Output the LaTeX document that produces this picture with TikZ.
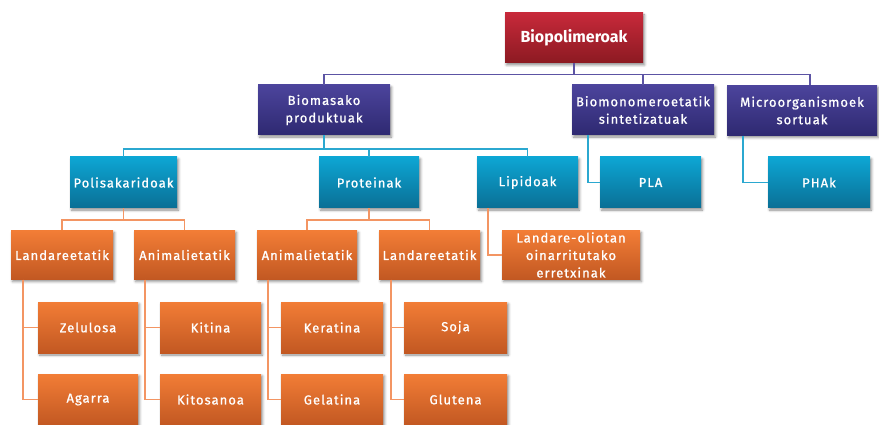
\documentclass[tikz,border=0pt]{standalone}
\usepackage{fontspec}
\setmainfont{Fira Sans}
\usetikzlibrary{shadows.blur}
\definecolor{redtop}{HTML}{C7293A}
\definecolor{redbot}{HTML}{8C1A22}
\definecolor{purtop}{HTML}{4C449C}
\definecolor{purbot}{HTML}{2E2971}
\definecolor{cyatop}{HTML}{0DA6D4}
\definecolor{cyabot}{HTML}{0A6F95}
\definecolor{oratop}{HTML}{F27D36}
\definecolor{orabot}{HTML}{C25822}
\definecolor{purline}{HTML}{5C54A4}
\definecolor{cyaline}{HTML}{2BA8D0}
\definecolor{oraline}{HTML}{F39563}
\newfontfamily\boxfont[LetterSpace=8, FakeBold=0.9]{Fira Sans}
\tikzset{
  box/.style={rectangle, inner sep=1pt, text=white, align=center,
    font=\boxfont\fontsize{13}{17.5}\selectfont,
    blur shadow={shadow xshift=1.5pt, shadow yshift=-2pt, shadow blur radius=2.5pt, shadow opacity=45}},
  redbox/.style={box, top color=redtop, bottom color=redbot,
    font=\fontsize{16}{19}\selectfont\bfseries, minimum width=138pt, minimum height=50pt},
  purbox/.style={box, top color=purtop, bottom color=purbot, minimum height=50pt},
  cyabox/.style={box, top color=cyatop, bottom color=cyabot, minimum height=51pt},
  orabox/.style={box, top color=oratop, bottom color=orabot, minimum height=49pt},
  leafbox/.style={orabox, minimum height=51pt},
  purlink/.style={draw=purline, line width=1.4pt},
  cyalink/.style={draw=cyaline, line width=1.4pt},
  oralink/.style={draw=oraline, line width=1.4pt},
}
\begin{document}
\begin{tikzpicture}[x=1pt, y=-1pt]
\useasboundingbox (0,0) rectangle (879,425);

% level 1 boxes
\node[redbox] (top) at (574,38) {Biopolimeroak};
\node[purbox, minimum width=132pt] (bm)  at (324,110) {Biomasako\\produktuak};
\node[purbox, minimum width=142pt] (bmo) at (643,110) {Biomonomeroetatik\\sintetizatuak};
\node[purbox, minimum width=150pt] (mic) at (802,110.5) {Microorganismoek\\sortuak};

% top bar, from the root down to the three groups
\draw[purlink] (top.south) -- ++(0,12) coordinate (bar);
\draw[purlink] (bm.north) -- ++(0,-10) -- ++(486,0) -- ++(0,10);
\draw[purlink] (bmo.north) -- ++(0,-10);

% level 2
\node[cyabox, minimum width=107pt] (pol) at (123.5,182.5) {Polisakaridoak};
\node[cyabox, minimum width=100pt] (pro) at (369,182.5) {Proteinak};
\node[cyabox, minimum width=101pt] (lip) at (527.5,182.5) {Lipidoak};
\node[cyabox, minimum width=101pt] (pla) at (650.5,182.5) {PLA};
\node[cyabox, minimum width=102pt] (pha) at (819,182.5) {PHAk};

% level 3
\node[orabox, minimum width=102pt] (l1) at (62,255) {Landareetatik};
\node[orabox, minimum width=101pt] (a1) at (184.5,255) {Animalietatik};
\node[orabox, minimum width=100pt] (a2) at (307,255) {Animalietatik};
\node[orabox, minimum width=101pt] (l2) at (429.5,255) {Landareetatik};
\node[orabox, minimum width=138pt, inner sep=0pt] (lo) at (571,255) {Landare-oliotan\\oinarritutako\\erretxinak};

% level 4
\node[leafbox, minimum width=100pt] (zel) at (88,327.5) {Zelulosa};
\node[leafbox, minimum width=100pt] (aga) at (88,399.5) {Agarra};
\node[leafbox, minimum width=101pt] (kit) at (210.5,327.5) {Kitina};
\node[leafbox, minimum width=101pt] (kto) at (210.5,399.5) {Kitosanoa};
\node[leafbox, minimum width=102pt] (ker) at (332,327.5) {Keratina};
\node[leafbox, minimum width=102pt] (gel) at (332,399.5) {Gelatina};
\node[leafbox, minimum width=103pt] (soj) at (455.5,327.5) {Soja};
\node[leafbox, minimum width=103pt] (glu) at (455.5,399.5) {Glutena};

% cyan links
\draw[cyalink] (bm.south) -- ++(0,14) -| (pol.north);
\draw[cyalink] (bm.south) ++(0,14) -| (pro.north);
\draw[cyalink] (bm.south) ++(0,14) -| (lip.north);
\draw[cyalink] ([xshift=16pt]bmo.south west) |- (pla.west);
\draw[cyalink] ([xshift=16pt]mic.south west) |- (pha.west);

% orange links
\draw[oralink] (pol.south) -- ++(0,12) -| (l1.north);
\draw[oralink] (pol.south) ++(0,12) -| (a1.north);
\draw[oralink] (pro.south) -- ++(0,12) -| (a2.north);
\draw[oralink] (pro.south) ++(0,12) -| (l2.north);
\draw[oralink] ([xshift=11pt]lip.south west) |- (lo.west);
\draw[oralink] ([xshift=12pt]l1.south west) |- (zel.west);
\draw[oralink] ([xshift=12pt]l1.south west) |- (aga.west);
\draw[oralink] ([xshift=11pt]a1.south west) |- (kit.west);
\draw[oralink] ([xshift=11pt]a1.south west) |- (kto.west);
\draw[oralink] ([xshift=11pt]a2.south west) |- (ker.west);
\draw[oralink] ([xshift=11pt]a2.south west) |- (gel.west);
\draw[oralink] ([xshift=12pt]l2.south west) |- (soj.west);
\draw[oralink] ([xshift=12pt]l2.south west) |- (glu.west);
\end{tikzpicture}
\end{document}
